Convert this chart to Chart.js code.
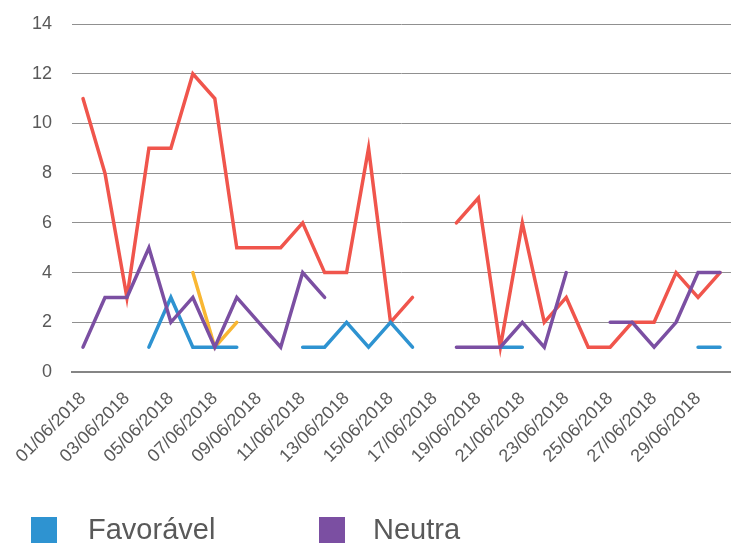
<!DOCTYPE html>
<html>
<head>
<meta charset="utf-8">
<script src="https://cdn.jsdelivr.net/npm/chart.js@4/dist/chart.umd.min.js"></script>
<style>
  html, body { margin: 0; padding: 0; background: #fff; }
  #wrap { position: relative; width: 731px; height: 546px; overflow: hidden; }
  #legend { position: absolute; left: 0; top: 0; width: 731px; height: 546px; pointer-events: none;
            font-family: "Liberation Sans", Arial, sans-serif; color: #595959; }
  .box { position: absolute; width: 26px; height: 26px; top: 517px; }
  .lbl { position: absolute; top: 515px; font-size: 29px; line-height: 29px; white-space: nowrap; }
</style>
</head>
<body>
<div id="wrap">
  <canvas id="lineChart" width="731" height="546"></canvas>
  <div id="legend"></div>
</div>
<script>
// days of June 2018
var dayLabels = ['01/06/2018', '02/06/2018', '03/06/2018', '04/06/2018', '05/06/2018', '06/06/2018',
    '07/06/2018', '08/06/2018', '09/06/2018', '10/06/2018', '11/06/2018', '12/06/2018',
    '13/06/2018', '14/06/2018', '15/06/2018', '16/06/2018', '17/06/2018', '18/06/2018',
    '19/06/2018', '20/06/2018', '21/06/2018', '22/06/2018', '23/06/2018', '24/06/2018',
    '25/06/2018', '26/06/2018', '27/06/2018', '28/06/2018', '29/06/2018', '30/06/2018']

var favoravel = [null, null, null, 1, 3, 1, 1, 1, null, null, 1, 1, 2, 1, 2, 1, null, null,
    null, 1, 1, null, null, null, null, null, null, null, 1, 1]
var neutra = [1, 3, 3, 5, 2, 3, 1, 3, 2, 1, 4, 3, null, null, null, null, null, 1,
    1, 1, 2, 1, 4, null, 2, 2, 1, 2, 4, 4]
var desfavoravel = [11, 8, 3, 9, 9, 12, 11, 5, 5, 5, 6, 4, 4, 9, 2, 3, null, 6,
    7, 1, 6, 2, 3, 1, 1, 2, 2, 4, 3, 4]
var outra = [null, null, null, null, null, 4, 1, 2, null, null, null, null, null, null, null, null, null, null,
    null, null, null, null, null, null, null, null, null, null, null, null]

var yTicks = [0, 2, 4, 6, 8, 10, 12, 14]

var fontFamily = '"Liberation Sans", Arial, sans-serif'
var textColor = '#595959'

function makeLine(label, data, color, order) {
    return {
        label: label,
        data: data,
        borderColor: color,
        backgroundColor: color,
        borderWidth: 3.5,
        borderCapStyle: 'round',
        pointRadius: 0,
        pointHoverRadius: 0,
        tension: 0,
        spanGaps: false,
        fill: false,
        order: order
    }
}

var datasets = [
    makeLine('Favorável', favoravel, '#2e93d1', 1),
    makeLine('Neutra', neutra, '#7b4fa2', 0),
    makeLine('Desfavorável', desfavoravel, '#f0554c', 2),
    makeLine('Outra', outra, '#f9b733', 3)
]

var ctx = document.getElementById('lineChart').getContext('2d');
var lineChart = new Chart(ctx, {
    type: 'line',
    data: { labels: dayLabels, datasets: datasets },
    options: {
        responsive: false,
        animation: false,
        layout: { padding: { top: 24, left: 12, right: 0, bottom: 63 } },
        plugins: { legend: { display: false }, tooltip: { enabled: false } },
        scales: {
            x: {
                offset: true,
                grid: { display: false, drawTicks: false },
                border: { display: true, color: '#858585', width: 2 },
                ticks: {
                    autoSkip: false,
                    minRotation: 45,
                    maxRotation: 45,
                    padding: 16,
                    color: textColor,
                    font: { family: fontFamily, size: 18 },
                    callback: function (value, index) {
                        return index % 2 === 0 ? this.getLabelForValue(value) : null
                    }
                }
            },
            y: {
                min: yTicks[0],
                max: yTicks[yTicks.length - 1],
                afterBuildTicks: function (axis) {
                    axis.ticks = yTicks.map(function (v) { return { value: v } })
                },
                // the tick padding is meant for the gap to the labels only
                afterFit: function (axis) {
                    axis.paddingTop = 0
                    axis.paddingBottom = 0
                },
                border: { display: false },
                grid: {
                    drawTicks: false,
                    color: '#909090',
                    lineWidth: function (c) { return c.tick && c.tick.value === 0 ? 0 : 1 }
                },
                ticks: {
                    padding: 20,
                    color: textColor,
                    font: { family: fontFamily, size: 18 }
                }
            }
        }
    }
});

// legend: only the first two entries are visible in the picture
var legendEl = document.getElementById('legend')
var legendPos = [[31, 88], [319, 373]]
legendPos.forEach(function (pos, i) {
    var box = document.createElement('div')
    box.className = 'box'
    box.style.left = pos[0] + 'px'
    box.style.background = datasets[i].borderColor
    legendEl.appendChild(box)
    var lbl = document.createElement('div')
    lbl.className = 'lbl'
    lbl.style.left = pos[1] + 'px'
    lbl.textContent = datasets[i].label
    legendEl.appendChild(lbl)
})
</script>
</body>
</html>
